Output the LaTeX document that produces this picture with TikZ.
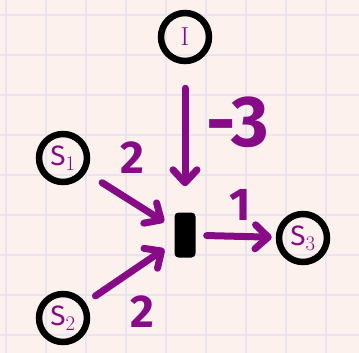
\documentclass[tikz,border=0pt]{standalone}
\usepackage{fontspec}
\newfontfamily\hand{Fira Sans}
\usetikzlibrary{positioning,arrows.meta}
\definecolor{paper}{HTML}{FDF1EE}
\definecolor{gridline}{HTML}{EAE4EE}
\definecolor{ink}{HTML}{870A87}

\begin{document}
\begin{tikzpicture}[
    x=1pt,y=-1pt,
    place/.style={circle,draw=black,line width=6.5pt,minimum size=48pt,inner sep=0pt,text=ink,font=\hand\fontsize{28}{28}\selectfont},
    bar/.style={rectangle,rounded corners=4pt,fill=black,minimum width=21pt,minimum height=45pt,inner sep=0pt},
    arrow/.style={draw=ink,line width=7pt,line cap=round,-{Straight Barb[round,length=13pt,width=24pt]}},
    weight/.style={text=ink,font=\hand\bfseries\fontsize{46}{46}\selectfont,inner sep=0pt}
]

% paper and grid
\fill[paper] (0,0) rectangle (359,353);
\useasboundingbox (0,0) rectangle (359,353);
\foreach \x in {6,46,...,326} {
    \draw[gridline,line width=1.2pt] (\x,0) -- (\x,353);
}
\foreach \y in {15,55,...,335} {
    \draw[gridline,line width=1.2pt] (0,\y) -- (359,\y);
}

% places
\node[place,font=\rmfamily\fontsize{26}{26}\selectfont] (I) at (185,37) {I};
\node[place] (s1) at (63,158) {S$_1$};
\node[place] (s2) at (63,318) {S$_2$};
\node[place] (s3) at (303,238) {S$_3$};

% transition
\node[bar] (mid) at (185,235) {};

% arcs
\draw[arrow,shorten <=24pt,shorten >=26pt] (I) -- (mid);
\draw[arrow,shorten <=19pt,shorten >=12pt] (s1) -- (mid);
\draw[arrow,shorten <=12pt,shorten >=12pt] (s2) -- (mid);
\draw[arrow,shorten <=11pt,shorten >=4pt] (mid) -- (s3);

% weights
\node[weight,font=\hand\bfseries\fontsize{72}{72}\selectfont] (wI) at (238,122) {-3};
\node[weight] (w1) at (132,158) {2};
\node[weight] (w2) at (142,312) {2};
\node[weight] (w3) at (240,205) {1};

\end{tikzpicture}
\end{document}
